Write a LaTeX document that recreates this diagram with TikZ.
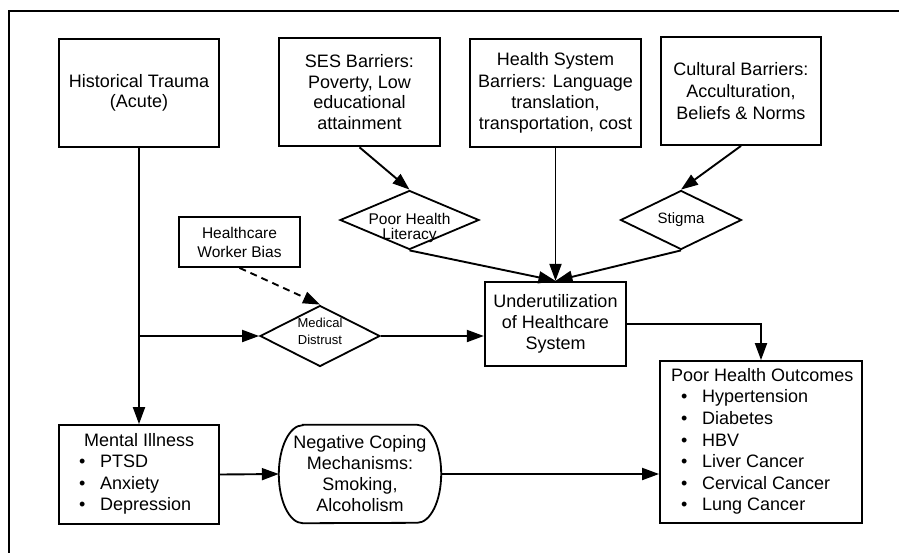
\documentclass[tikz,border=0pt]{standalone}
\usepackage{fontspec}
\setmainfont{Liberation Sans}
\usetikzlibrary{arrows.meta,shapes.geometric,calc}
\begin{document}
\begin{tikzpicture}[x=1pt,y=-1pt,
  box/.style={draw, line width=1.8pt, rectangle, inner sep=0pt, align=center, font=\fontsize{18}{21}\selectfont},
  thickbox/.style={box, line width=2.6pt},
  dia/.style={draw, line width=1.8pt, diamond, inner sep=0pt},
  dtext/.style={inner sep=0pt, align=center},
  conn/.style={line width=1.9pt, -{Triangle[length=17pt,width=12pt]}},
  dconn/.style={conn, dash pattern=on 7pt off 5pt},
]
\useasboundingbox (0,0) rectangle (899,552);
% frame
\draw[line width=2pt] (9,600) -- (9,11) -- (950,11);

% top row boxes
\node[box, minimum width=160pt, minimum height=108pt, font=\fontsize{18}{20}\selectfont] (ht) at (139,93) {Historical Trauma\\(Acute)};
\node[thickbox, minimum width=161pt, minimum height=108pt, font=\fontsize{18}{20.7}\selectfont] (ses) at (359.5,92) {SES Barriers:\\Poverty, Low\\educational\\attainment};
\node[box, minimum width=171pt, minimum height=108pt, font=\fontsize{18}{21.3}\selectfont] (hs) at (555.5,93) {Health System\\Barriers: Language\\translation,\\transportation, cost};
\node[box, minimum width=160pt, minimum height=108pt, font=\fontsize{18}{22}\selectfont] (cult) at (741,91) {Cultural Barriers:\\Acculturation,\\Beliefs \& Norms};

% diamonds
\node[dia, minimum width=139pt, minimum height=59pt] (phl) at (409.5,220) {};
\node[dtext, font=\fontsize{15.5}{15}\selectfont] (phlt) at ([yshift=-7.5pt]phl.center) {Poor Health\\Literacy};
\node[dia, minimum width=121pt, minimum height=59pt] (stig) at (681,220) {};
\node[dtext, font=\fontsize{15}{15}\selectfont] (stigt) at (stig.center) {Stigma};
\node[dia, minimum width=120pt, minimum height=61pt] (md) at (320,336) {};
\node[dtext, font=\fontsize{13}{17}\selectfont] (mdt) at ([yshift=4.5pt]md.center) {Medical\\Distrust};

% middle boxes
\node[box, minimum width=121pt, minimum height=50pt, font=\fontsize{15.5}{19}\selectfont] (hwb) at (239.5,242) {Healthcare\\Worker Bias};
\node[thickbox, line width=2.3pt, minimum width=141pt, minimum height=84pt, font=\fontsize{18}{21}\selectfont] (uhs) at (555.5,324) {Underutilization\\of Healthcare\\System};

% bottom row
\node[box, minimum width=160pt, minimum height=99pt] (mi) at (139,474.5) {};
\node[anchor=north west, inner sep=0pt, font=\fontsize{18}{21.3}\selectfont] (mit) at (79,431.5)
  {\begin{tabular}{@{}l@{\hspace{14.7pt}}l@{}}\multicolumn{2}{@{\hspace{5pt}}l@{}}{Mental Illness}\\ \textbullet & PTSD\\ \textbullet & Anxiety\\ \textbullet & Depression\end{tabular}};

\node[rectangle, minimum width=162pt, minimum height=98pt, inner sep=0pt, align=center, font=\fontsize{18}{21}\selectfont] (ncm) at (360,474) {Negative Coping\\Mechanisms:\\Smoking,\\Alcoholism};
\draw[line width=1.8pt] ([xshift=24pt]ncm.north west) -- ([xshift=-24pt]ncm.north east)
  arc[start angle=90, end angle=-90, x radius=24pt, y radius=49pt]
  -- ([xshift=24pt]ncm.south west)
  arc[start angle=270, end angle=90, x radius=24pt, y radius=49pt] -- cycle;

\node[box, minimum width=202pt, minimum height=162pt] (pho) at (761,442) {};
\node[anchor=north west, inner sep=0pt, font=\fontsize{18}{21.6}\selectfont] (phot) at (671,366)
  {\begin{tabular}{@{\hspace{10pt}}l@{\hspace{14.7pt}}l@{}}\multicolumn{2}{@{}l@{}}{Poor Health Outcomes}\\ \textbullet & Hypertension\\ \textbullet & Diabetes\\ \textbullet & HBV\\ \textbullet & Liver Cancer\\ \textbullet & Cervical Cancer\\ \textbullet & Lung Cancer\end{tabular}};

% connectors
\coordinate (br) at (ht.south |- md.west);
\draw[conn] (ht.south) -- (mi.north);
\draw[conn] (br) -- (md.west);
\draw[dconn] (hwb.south) -- (md.north);
\draw[conn] (md.east) -- (md.east -| uhs.west);
\draw[conn] (ses.south) -- (phl.north);
\draw[conn] (hs.south) -- (uhs.north);
\draw[conn] (cult.south) -- (stig.north);
\draw[conn] (phl.south) -- (uhs.north);
\draw[conn] (stig.south) -- (uhs.north);
\draw[conn] (uhs.east) -| (pho.north);
\draw[conn] (mi.east) -- (ncm.west);
\draw[conn] (ncm.east) -- (ncm.east -| pho.west);
\end{tikzpicture}
\end{document}
